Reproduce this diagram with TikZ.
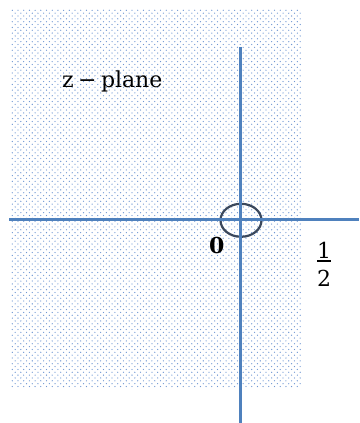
\documentclass[tikz,border=0pt]{standalone}
\usepackage{fontspec}
\setmainfont{DejaVu Serif}
\definecolor{axisblue}{RGB}{79,129,189}
\definecolor{poledark}{RGB}{59,72,92}
\definecolor{dotblue}{RGB}{110,150,210}
\begin{document}
\begin{tikzpicture}[x=1pt,y=-1pt,
  axis/.style={draw=axisblue,line width=3pt},
  pole/.style={draw=poledark,line width=2.2pt},
  dotfill/.style={fill=dotblue},
  lbl/.style={inner sep=0pt,font=\fontsize{22}{26}\selectfont}]
\useasboundingbox (0,0) rectangle (359,423);
% dotted region
\foreach \r in {0,...,132}{
  \pgfmathsetmacro\yy{10.3+\r*2.85}
  \pgfmathsetmacro\xo{12.3+mod(\r,2)*2.85}
  \foreach \c in {0,...,50}{
    \fill[dotfill] ({\xo+\c*5.7},\yy) circle (0.65);
  }
}
% axes end points
\coordinate (xl) at (9,219.7);
\coordinate (xr) at (359,219.7);
\coordinate (yt) at (240,47);
\coordinate (yb) at (240,423);
\coordinate (o) at (241,220.3);
% pole circle at origin
\draw[pole] (o) ellipse [x radius=20.5, y radius=16.5];
\draw[axis] (xl) -- (xr);
\draw[axis] (yt) -- (yb);
% labels
\node[lbl,anchor=base west] (zp) at (62,87) {z\hspace{0.2em}−\hspace{0.2em}plane};
\node[lbl] (zero) at (216.7,245.5) {\bfseries 0};
\node[lbl] (num) at (324,250) {1};
\node[lbl] (den) at (324,278) {2};
\draw[line width=1.3pt] ([xshift=-7pt,yshift=-11pt]num.center) -- ([xshift=7pt,yshift=-11pt]num.center);
\end{tikzpicture}
\end{document}
